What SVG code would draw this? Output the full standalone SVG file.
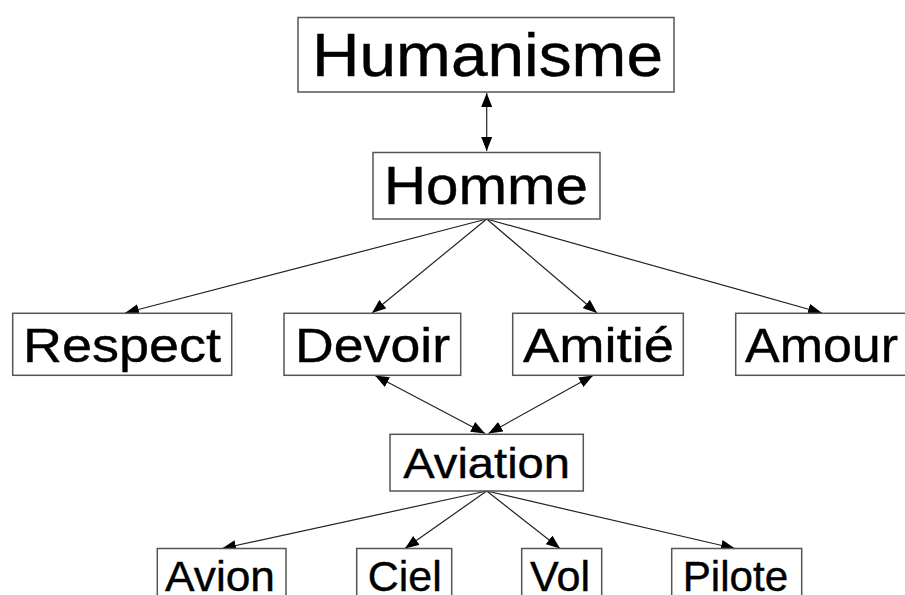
<svg xmlns="http://www.w3.org/2000/svg" width="905" height="595" viewBox="0 0 905 595">
<style>
.box{fill:#fff;stroke:#555;stroke-width:1.5}
.t{font-family:"Liberation Sans",Arial,sans-serif;fill:#000;stroke:#000;stroke-width:0.4}
.c{stroke:#222;stroke-width:1.2;fill:none}
</style>
<defs>
<marker id="ah" viewBox="0 0 14 11" markerUnits="userSpaceOnUse" markerWidth="14" markerHeight="11" refX="14" refY="5.5" orient="auto-start-reverse">
<path d="M0,0 L14,5.5 L0,11 z" fill="#000"/>
</marker>
</defs>
<rect width="905" height="595" fill="#fff"/>
<g id="connectors">
<line class="c" x1="486.7" y1="93" x2="486.7" y2="151" marker-start="url(#ah)" marker-end="url(#ah)"/>
<line class="c" x1="486.7" y1="219" x2="125" y2="313" marker-end="url(#ah)"/>
<line class="c" x1="486.7" y1="219" x2="372" y2="313" marker-end="url(#ah)"/>
<line class="c" x1="486.7" y1="219" x2="597" y2="313" marker-end="url(#ah)"/>
<line class="c" x1="486.7" y1="219" x2="822" y2="313" marker-end="url(#ah)"/>
<line class="c" x1="375" y1="375.5" x2="485" y2="433.5" marker-start="url(#ah)" marker-end="url(#ah)"/>
<line class="c" x1="593" y1="375.5" x2="488.5" y2="433.5" marker-start="url(#ah)" marker-end="url(#ah)"/>
<line class="c" x1="486.7" y1="491" x2="222" y2="548.5" marker-end="url(#ah)"/>
<line class="c" x1="486.7" y1="491" x2="405" y2="548.5" marker-end="url(#ah)"/>
<line class="c" x1="486.7" y1="491" x2="560" y2="548.5" marker-end="url(#ah)"/>
<line class="c" x1="486.7" y1="491" x2="735" y2="548.5" marker-end="url(#ah)"/>
</g>
<g id="humanisme"><rect class="box" x="298" y="17.5" width="376" height="74.5"/><text class="t" x="312" y="76" font-size="61.5" textLength="351" lengthAdjust="spacingAndGlyphs">Humanisme</text></g>
<g id="homme"><rect class="box" x="373" y="152.5" width="227" height="66.5"/><text class="t" x="384" y="204" font-size="54.5" textLength="204" lengthAdjust="spacingAndGlyphs">Homme</text></g>
<g id="respect"><rect class="box" x="12.7" y="313.3" width="219" height="62"/><text class="t" x="23" y="361.7" font-size="49" textLength="198" lengthAdjust="spacingAndGlyphs">Respect</text></g>
<g id="devoir"><rect class="box" x="284" y="313.3" width="176.7" height="62"/><text class="t" x="295" y="361.7" font-size="49" textLength="155" lengthAdjust="spacingAndGlyphs">Devoir</text></g>
<g id="amitie"><rect class="box" x="512.7" y="313.3" width="170.6" height="62"/><text class="t" x="523" y="361.7" font-size="49" textLength="151" lengthAdjust="spacingAndGlyphs">Amitié</text></g>
<g id="amour"><rect class="box" x="735.7" y="313.3" width="180" height="62"/><text class="t" x="745" y="361.7" font-size="49" textLength="153" lengthAdjust="spacingAndGlyphs">Amour</text></g>
<g id="aviation"><rect class="box" x="390" y="434.3" width="193.3" height="56.7"/><text class="t" x="403.3" y="478" font-size="43" textLength="166.7" lengthAdjust="spacingAndGlyphs">Aviation</text></g>
<g id="avion"><rect class="box" x="157.3" y="548.5" width="128.7" height="60"/><text class="t" x="165" y="591" font-size="43" textLength="110" lengthAdjust="spacingAndGlyphs">Avion</text></g>
<g id="ciel"><rect class="box" x="356.7" y="548.5" width="95" height="60"/><text class="t" x="367.7" y="591" font-size="43" textLength="74" lengthAdjust="spacingAndGlyphs">Ciel</text></g>
<g id="vol"><rect class="box" x="521.7" y="548.5" width="80" height="60"/><text class="t" x="530" y="591" font-size="43" textLength="60" lengthAdjust="spacingAndGlyphs">Vol</text></g>
<g id="pilote"><rect class="box" x="671.7" y="548.5" width="130" height="60"/><text class="t" x="682.7" y="591" font-size="43" textLength="105.6" lengthAdjust="spacingAndGlyphs">Pilote</text></g>
</svg>
